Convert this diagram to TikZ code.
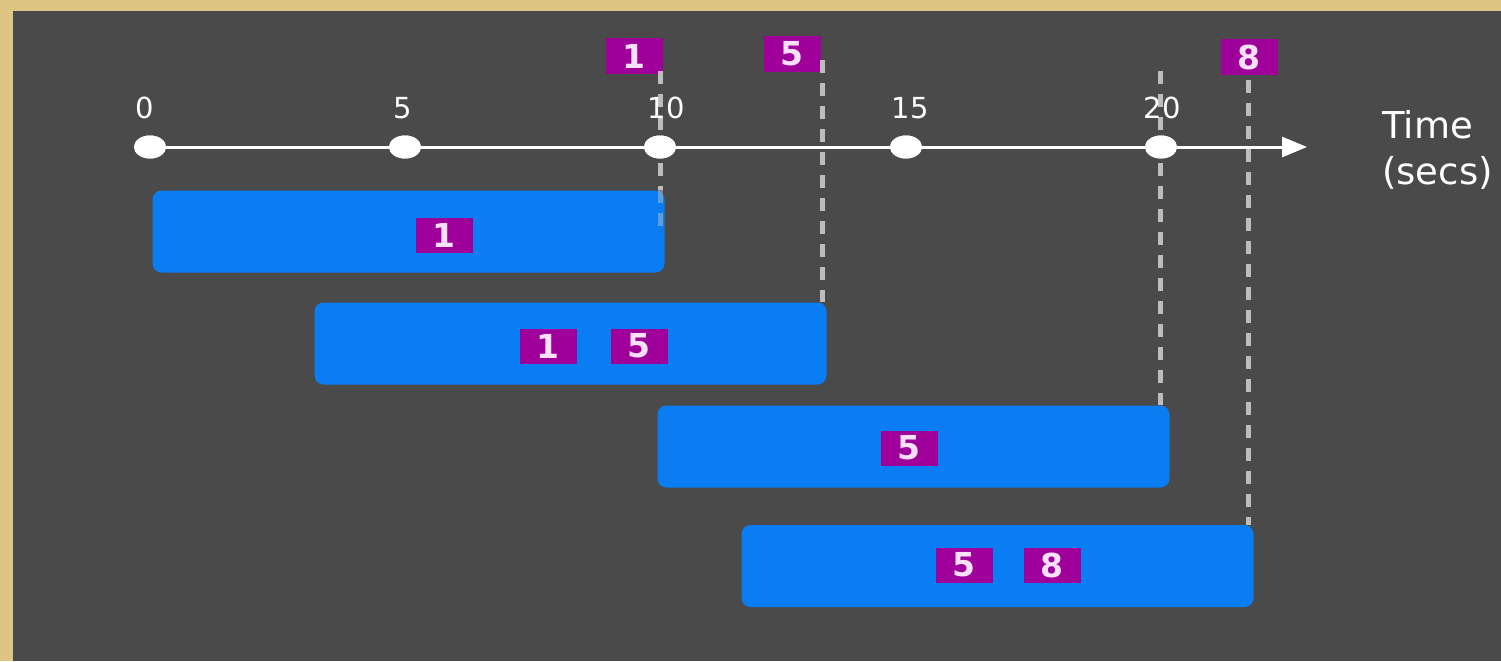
\documentclass[tikz,border=0pt]{standalone}
\usepackage{fontspec}
\setmainfont{DejaVu Sans}
\usetikzlibrary{arrows.meta,shapes.geometric}
\definecolor{tan}{HTML}{DFC583}
\definecolor{slate}{HTML}{4A4A4A}
\definecolor{barblue}{HTML}{0A7DF2}
\definecolor{tagmag}{HTML}{A0009A}
\definecolor{tagtxt}{HTML}{FBE0FB}
\definecolor{dashgray}{HTML}{BDBDBD}
\tikzset{
  bar/.style={fill=barblue, draw=none, rounded corners=9pt, minimum width=512pt, minimum height=82pt, inner sep=0pt},
  tag/.style={fill=tagmag, text=tagtxt, font=\fontsize{33}{35}\selectfont\bfseries, minimum width=57pt, minimum height=35pt, inner sep=0pt},
  dot/.style={ellipse, fill=white, draw=none, minimum width=32pt, minimum height=23pt, inner sep=0pt},
  tick/.style={text=white, font=\fontsize{29}{30}\selectfont, inner sep=0pt},
  guide/.style={draw=dashgray, line width=5pt, dash pattern=on 13pt off 10pt},
  axis/.style={draw=white, line width=3pt, -{Triangle[length=25pt,width=20pt]}},
  lbl/.style={text=white, font=\fontsize{37}{46}\selectfont, inner sep=0pt, anchor=base west}
}
\begin{document}
\begin{tikzpicture}[x=1pt,y=-1pt]
\useasboundingbox (0,0) rectangle (1501,661);
\fill[tan] (0,0) rectangle (1501,661);
\fill[slate] (13,11) rectangle (1501,661);

% bars
\node[bar] (bar1) at (408.5,231.5) {};
\node[bar] (bar2) at (570.5,343.5) {};
\node[bar] (bar3) at (913.5,446.5) {};
\node[bar] (bar4) at (997.5,566) {};

% top tags
\node[tag] (t1) at (634,56) {1};
\node[tag] (t5) at (792,54) {5};
\node[tag] (t8) at (1249,57) {8};

% guide coordinates
\coordinate (g1) at (660,71);
\coordinate (g2) at (822,60);
\coordinate (g3) at (1160,71);
\coordinate (g4) at (1248,80);

% dashed guides
\draw[guide] (g2) -- (g2 |- bar2.north);
\draw[guide] (g3) -- (g3 |- bar3.north);
\draw[guide] (g4) -- (g4 |- bar4.north);
\draw[guide] (g1) -- (g1 |- bar1.north);
\draw[guide, draw opacity=0.5] (g1 |- bar1.north) -- ([yshift=-44pt]g1 |- bar1.north);

% axis
\node[dot] (d0) at (150,147) {};
\node[dot] (d5) at (405,147) {};
\node[dot] (d10) at (660,147) {};
\node[dot] (d15) at (906,147) {};
\node[dot] (d20) at (1161,147) {};
\coordinate (axend) at (1307,147);
\draw[axis] (d0.center) -- (axend);
\node[dot] at (d0) {};
\node[dot] at (d5) {};
\node[dot] at (d10) {};
\node[dot] at (d15) {};
\node[dot] at (d20) {};

\node[tick] (n0) at (145,108) {0};
\node[tick] (n5) at (403,108) {5};
\node[tick] (n10) at (666,108) {10};
\node[tick] (n15) at (910,108) {15};
\node[tick] (n20) at (1162,108) {20};

\node[lbl] (time) at (1382,138) {Time};
\node[lbl] (secs) at (1382,184) {(secs)};

% bar tags
\node[tag] (b1a) at (444,235) {1};
\node[tag] (b2a) at (548,346) {1};
\node[tag] (b2b) at (639,346) {5};
\node[tag] (b3a) at (909,448) {5};
\node[tag] (b4a) at (964,565) {5};
\node[tag] (b4b) at (1052,565) {8};
\end{tikzpicture}
\end{document}
